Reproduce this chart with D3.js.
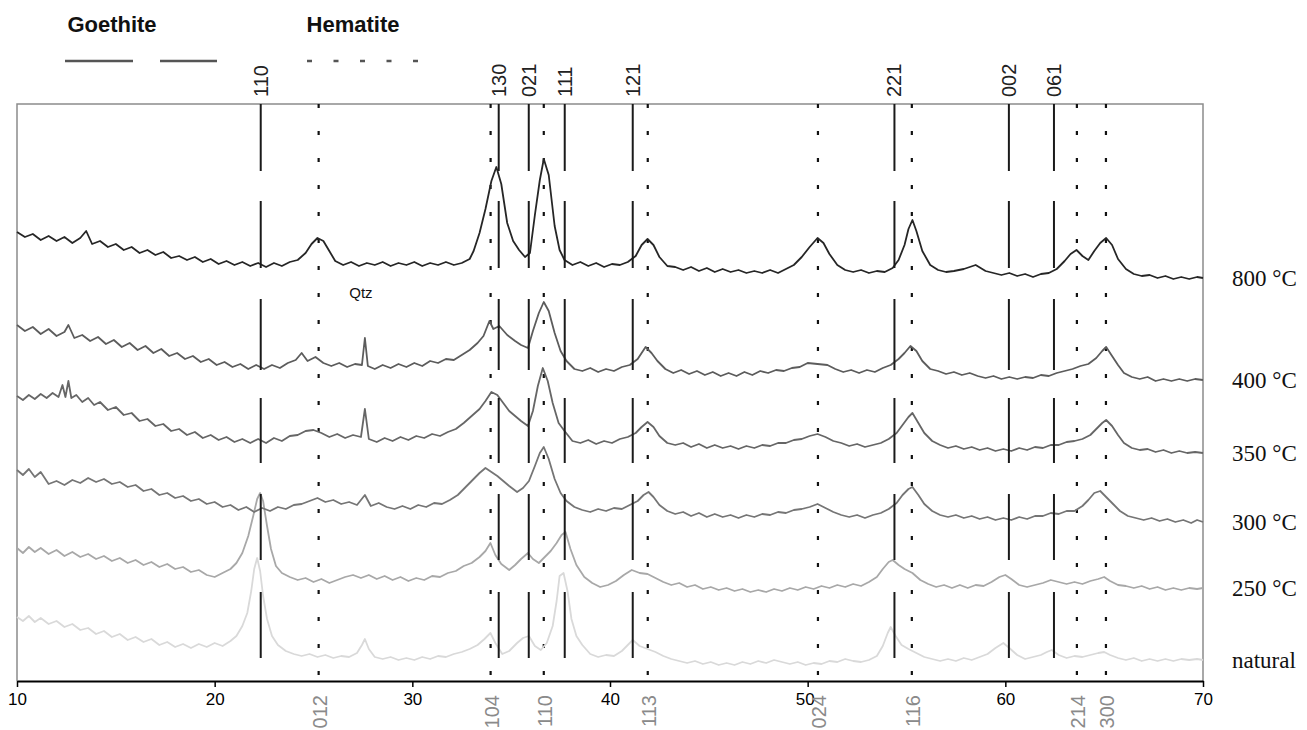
<!DOCTYPE html>
<html>
<head>
<meta charset="utf-8">
<script src="https://cdn.jsdelivr.net/npm/d3@7"></script>
<style>
  body { margin: 0; background: #fff; }
  svg { display: block; }
</style>
</head>
<body>
<div id="xrd"></div>
<script>
// 2-theta axis ticks
var xTicks = [10, 20, 30, 40, 50, 60, 70];

// reference lines (2-theta)
var goethiteHkl = ['110', '130', '021', '111', '121', '221', '002', '061'];
var goethitePos = [22.33, 34.37, 35.89, 37.71, 41.15, 54.39, 60.18, 62.46];
var hematiteHkl = ['012', '104', '110', '113', '024', '116', '214', '300'];
var hematitePos = [25.26, 33.96, 36.65, 41.91, 50.52, 55.27, 63.62, 65.09];

// goethite marker segments (intensity, a.u.)
var goethiteBands = [[510, 577], [413, 480], [311, 382], [218, 283], [121, 187], [23, 89]];

var traceNames = ['800 °C', '400 °C', '350 °C', '300 °C', '250 °C', 'natural'];
var traceColors = ['#262626', '#5c5c5c', '#666666', '#757575', '#a8a8a8', '#d9d9d9'];

var t800 = [[10.0,449],[10.4,444],[10.8,447],[11.2,441],[11.6,445],[12.0,440],[12.4,444],[12.8,438],[13.2,443],[13.5,450],[13.8,437],[14.2,440],[14.6,434],[15.0,437],[15.4,431],[15.8,434],[16.2,428],[16.6,431],[17.0,426],[17.4,429],[17.8,423],[18.2,425],[18.6,421],[19.0,424],[19.4,419],[19.8,422],[20.2,417],[20.6,420],[21.0,416],[21.4,419],[21.8,415],[22.2,418],[22.6,414],[23.0,418],[23.4,415],[23.8,419],[24.2,421],[24.6,428],[24.9,437],[25.2,443],[25.5,440],[25.8,430],[26.1,420],[26.5,416],[26.9,419],[27.3,415],[27.7,418],[28.1,416],[28.5,419],[28.9,415],[29.3,418],[29.7,416],[30.1,419],[30.5,415],[30.9,418],[31.3,416],[31.7,419],[32.1,416],[32.5,418],[32.9,422],[33.1,430],[33.4,448],[33.7,472],[34.0,500],[34.25,514],[34.5,497],[34.8,458],[35.1,440],[35.4,431],[35.7,424],[35.95,428],[36.2,466],[36.45,501],[36.65,522],[36.9,506],[37.2,455],[37.45,431],[37.7,421],[38.1,416],[38.5,419],[38.9,415],[39.3,418],[39.7,414],[40.1,417],[40.5,416],[40.9,419],[41.3,425],[41.6,436],[41.9,442],[42.2,436],[42.5,424],[42.9,415],[43.3,414],[43.7,411],[44.1,414],[44.5,410],[44.9,413],[45.3,409],[45.7,412],[46.1,409],[46.5,411],[46.9,408],[47.3,410],[47.7,408],[48.1,411],[48.5,408],[48.9,412],[49.3,416],[49.7,424],[50.1,434],[50.5,443],[50.8,438],[51.1,427],[51.5,416],[51.9,411],[52.3,409],[52.7,411],[53.1,408],[53.5,410],[53.9,409],[54.3,413],[54.6,421],[54.9,436],[55.1,452],[55.3,461],[55.5,450],[55.8,430],[56.2,416],[56.6,411],[57.0,409],[57.4,410],[57.9,412],[58.5,416],[59.0,410],[59.4,408],[59.8,406],[60.2,408],[60.6,405],[61.0,407],[61.4,404],[61.8,407],[62.2,408],[62.6,412],[63.0,420],[63.3,427],[63.6,431],[63.9,425],[64.2,421],[64.5,430],[64.8,438],[65.1,443],[65.4,436],[65.7,422],[66.1,412],[66.5,407],[66.9,405],[67.3,406],[67.7,403],[68.1,405],[68.5,402],[68.9,404],[69.3,402],[69.7,404],[70.0,403]];

var t400 = [[10.0,356],[10.4,350],[10.8,354],[11.2,347],[11.6,352],[12.0,345],[12.4,349],[12.6,356],[12.9,343],[13.3,346],[13.7,340],[14.1,344],[14.5,337],[14.9,341],[15.3,334],[15.7,338],[16.1,331],[16.5,335],[16.9,328],[17.3,332],[17.7,325],[18.1,328],[18.5,322],[18.9,325],[19.3,319],[19.7,322],[20.1,316],[20.5,319],[20.9,314],[21.3,317],[21.7,312],[22.1,316],[22.5,312],[22.9,316],[23.3,313],[23.7,318],[24.1,321],[24.4,328],[24.7,320],[25.1,324],[25.5,318],[25.9,315],[26.3,318],[26.7,314],[27.1,317],[27.45,316],[27.6,343],[27.75,315],[28.1,312],[28.5,316],[28.9,313],[29.3,317],[29.7,314],[30.1,318],[30.5,315],[30.9,320],[31.3,318],[31.7,322],[32.1,321],[32.5,326],[32.9,331],[33.3,338],[33.6,345],[33.9,360],[34.1,352],[34.4,355],[34.8,346],[35.2,340],[35.5,336],[35.85,333],[36.1,350],[36.4,368],[36.65,379],[36.9,370],[37.2,348],[37.5,330],[37.8,320],[38.2,312],[38.6,310],[39.0,313],[39.4,309],[39.8,312],[40.2,310],[40.6,314],[41.0,316],[41.4,322],[41.8,334],[42.1,328],[42.4,320],[42.8,312],[43.2,308],[43.6,311],[44.0,307],[44.4,310],[44.8,306],[45.2,309],[45.6,305],[46.0,308],[46.4,305],[46.8,309],[47.2,306],[47.6,310],[48.0,308],[48.4,311],[48.8,310],[49.2,313],[49.6,314],[50.0,318],[50.5,317],[51.0,316],[51.4,312],[51.8,309],[52.2,311],[52.6,308],[53.0,311],[53.4,309],[53.8,313],[54.2,316],[54.6,322],[54.9,328],[55.2,335],[55.5,330],[55.8,320],[56.2,312],[56.6,310],[57.0,307],[57.4,309],[57.8,306],[58.2,308],[58.6,305],[59.0,303],[59.4,305],[59.8,302],[60.2,304],[60.6,302],[61.0,304],[61.4,303],[61.8,306],[62.2,305],[62.6,308],[63.0,310],[63.4,312],[63.8,315],[64.2,317],[64.6,323],[64.9,330],[65.1,334],[65.4,325],[65.7,316],[66.0,308],[66.4,304],[66.8,302],[67.2,304],[67.6,300],[68.0,302],[68.4,300],[68.8,302],[69.2,300],[69.6,302],[70.0,301]];

var t350 = [[10.0,285],[10.3,281],[10.6,286],[10.9,282],[11.2,287],[11.5,283],[11.8,288],[12.1,284],[12.3,296],[12.45,284],[12.6,300],[12.75,283],[13.0,286],[13.3,279],[13.6,283],[13.9,276],[14.2,279],[14.6,271],[15.0,274],[15.4,266],[15.8,268],[16.2,260],[16.6,262],[17.0,255],[17.4,257],[17.8,250],[18.2,252],[18.6,246],[19.0,249],[19.4,243],[19.8,246],[20.2,241],[20.6,244],[21.0,239],[21.4,242],[21.8,238],[22.2,242],[22.6,238],[23.0,243],[23.4,240],[23.8,245],[24.2,246],[24.6,250],[25.0,251],[25.4,248],[25.8,244],[26.2,247],[26.6,243],[27.0,246],[27.4,244],[27.6,272],[27.8,242],[28.2,239],[28.6,243],[29.0,240],[29.4,244],[29.8,241],[30.2,245],[30.6,243],[31.0,247],[31.4,245],[31.8,249],[32.2,252],[32.6,258],[33.0,265],[33.4,272],[33.7,280],[34.0,289],[34.3,286],[34.6,278],[34.9,270],[35.2,265],[35.5,260],[35.85,255],[36.1,270],[36.35,295],[36.6,313],[36.85,300],[37.1,278],[37.4,258],[37.7,250],[38.1,240],[38.5,238],[38.9,241],[39.3,237],[39.7,240],[40.1,238],[40.5,242],[40.9,244],[41.3,248],[41.6,254],[41.9,259],[42.2,254],[42.5,245],[42.9,238],[43.3,236],[43.7,238],[44.1,234],[44.5,237],[44.9,233],[45.3,236],[45.7,233],[46.1,235],[46.5,232],[46.9,235],[47.3,233],[47.7,236],[48.1,235],[48.5,238],[48.9,238],[49.3,241],[49.7,242],[50.1,245],[50.5,247],[50.9,244],[51.3,240],[51.7,238],[52.1,235],[52.5,237],[52.9,234],[53.3,236],[53.7,238],[54.1,242],[54.5,248],[54.8,256],[55.1,264],[55.3,268],[55.6,258],[55.9,248],[56.3,240],[56.7,236],[57.1,233],[57.5,235],[57.9,232],[58.3,234],[58.7,231],[59.1,233],[59.5,230],[59.9,232],[60.3,230],[60.7,233],[61.1,231],[61.5,234],[61.9,233],[62.3,236],[62.7,236],[63.1,239],[63.5,240],[63.9,242],[64.3,246],[64.6,252],[64.9,258],[65.1,261],[65.4,255],[65.7,246],[66.0,238],[66.4,233],[66.8,231],[67.2,232],[67.6,229],[68.0,231],[68.4,228],[68.8,230],[69.2,228],[69.6,229],[70.0,228]];

var t300 = [[10.0,211],[10.3,206],[10.6,212],[10.9,204],[11.2,209],[11.6,197],[12.0,200],[12.4,196],[12.8,201],[13.2,198],[13.6,203],[14.0,199],[14.4,202],[14.8,197],[15.2,199],[15.6,194],[16.0,196],[16.4,190],[16.8,192],[17.2,186],[17.6,188],[18.0,183],[18.4,185],[18.8,180],[19.2,182],[19.6,177],[20.0,179],[20.4,174],[20.8,176],[21.2,171],[21.6,174],[22.0,169],[22.4,173],[22.8,170],[23.2,174],[23.6,172],[24.0,176],[24.4,177],[24.8,180],[25.2,183],[25.6,179],[26.0,181],[26.4,177],[26.8,179],[27.2,176],[27.6,186],[27.9,175],[28.3,178],[28.7,174],[29.1,172],[29.5,175],[29.9,172],[30.3,176],[30.7,174],[31.1,178],[31.5,177],[31.9,181],[32.3,186],[32.7,194],[33.1,202],[33.4,208],[33.7,213],[34.0,209],[34.3,205],[34.6,200],[34.9,195],[35.3,189],[35.6,193],[35.9,200],[36.2,215],[36.45,228],[36.65,234],[36.9,222],[37.2,202],[37.5,188],[37.8,180],[38.2,174],[38.6,171],[39.0,169],[39.4,172],[39.8,170],[40.2,173],[40.6,172],[41.0,176],[41.4,180],[41.7,186],[41.95,189],[42.2,184],[42.5,176],[42.9,170],[43.3,167],[43.7,169],[44.1,165],[44.5,168],[44.9,164],[45.3,167],[45.7,164],[46.1,166],[46.5,163],[46.9,166],[47.3,164],[47.7,167],[48.1,166],[48.5,169],[48.9,168],[49.3,171],[49.7,172],[50.1,174],[50.5,177],[50.9,173],[51.3,169],[51.7,166],[52.1,164],[52.5,166],[52.9,163],[53.3,166],[53.7,168],[54.1,172],[54.5,178],[54.8,186],[55.1,192],[55.3,194],[55.6,186],[55.9,177],[56.3,170],[56.7,166],[57.1,164],[57.5,166],[57.9,163],[58.3,165],[58.7,162],[59.1,164],[59.5,161],[59.9,163],[60.3,161],[60.7,164],[61.1,162],[61.5,165],[61.9,165],[62.3,168],[62.7,167],[63.1,170],[63.5,170],[63.9,175],[64.2,181],[64.5,188],[64.8,190],[65.1,184],[65.4,178],[65.8,170],[66.2,165],[66.6,163],[67.0,161],[67.4,163],[67.8,160],[68.2,162],[68.6,159],[69.0,161],[69.4,158],[69.7,161],[70.0,159]];

var t250 = [[10.0,133],[10.3,128],[10.6,134],[10.9,129],[11.2,133],[11.6,127],[12.0,131],[12.4,125],[12.8,129],[13.2,124],[13.6,127],[14.0,122],[14.4,125],[14.8,120],[15.2,123],[15.6,118],[16.0,121],[16.4,116],[16.8,119],[17.2,114],[17.6,117],[18.0,112],[18.4,114],[18.8,109],[19.2,111],[19.6,106],[20.0,104],[20.4,108],[20.8,112],[21.1,118],[21.4,128],[21.7,145],[21.95,165],[22.15,182],[22.3,188],[22.45,180],[22.65,155],[22.85,132],[23.1,115],[23.4,108],[23.8,104],[24.2,101],[24.6,103],[25.0,99],[25.4,102],[25.8,98],[26.2,101],[26.6,104],[27.0,106],[27.4,103],[27.8,106],[28.2,102],[28.6,105],[29.0,101],[29.4,104],[29.8,100],[30.2,103],[30.6,101],[31.0,105],[31.4,104],[31.8,108],[32.2,110],[32.6,115],[33.0,118],[33.4,124],[33.7,130],[33.95,138],[34.2,126],[34.5,117],[34.9,111],[35.2,116],[35.5,122],[35.85,128],[36.1,122],[36.4,118],[36.7,124],[37.0,130],[37.3,138],[37.55,146],[37.75,149],[38.0,132],[38.3,116],[38.7,104],[39.1,98],[39.5,94],[39.9,96],[40.3,100],[40.7,106],[41.1,111],[41.5,108],[41.9,107],[42.3,103],[42.7,99],[43.1,96],[43.5,98],[43.9,94],[44.3,96],[44.7,92],[45.1,94],[45.5,91],[45.9,93],[46.3,90],[46.7,92],[47.1,89],[47.5,91],[47.9,89],[48.3,92],[48.7,90],[49.1,93],[49.5,91],[49.9,94],[50.3,92],[50.7,95],[51.1,93],[51.5,96],[51.9,94],[52.3,97],[52.7,95],[53.1,99],[53.5,104],[53.8,112],[54.1,119],[54.3,121],[54.6,116],[54.9,112],[55.3,108],[55.7,101],[56.1,97],[56.5,94],[56.9,96],[57.3,93],[57.7,96],[58.1,93],[58.5,96],[58.9,95],[59.3,99],[59.7,104],[60.0,106],[60.3,102],[60.7,96],[61.1,94],[61.5,96],[61.9,98],[62.3,101],[62.7,99],[63.1,97],[63.5,99],[63.9,97],[64.3,100],[64.7,102],[65.0,104],[65.3,100],[65.7,96],[66.1,95],[66.5,93],[66.9,95],[67.3,92],[67.7,94],[68.1,91],[68.5,93],[68.9,91],[69.3,93],[69.7,92],[70.0,93]];

var tNatural = [[10.0,64],[10.3,60],[10.6,65],[10.9,59],[11.2,63],[11.6,57],[12.0,60],[12.4,54],[12.8,57],[13.2,51],[13.6,53],[14.0,47],[14.4,50],[14.8,44],[15.2,47],[15.6,41],[16.0,44],[16.4,39],[16.8,42],[17.2,36],[17.6,39],[18.0,34],[18.4,37],[18.8,33],[19.2,37],[19.6,34],[20.0,38],[20.4,35],[20.8,40],[21.1,45],[21.4,55],[21.65,68],[21.85,90],[22.0,112],[22.15,123],[22.3,110],[22.45,85],[22.65,62],[22.9,45],[23.2,36],[23.6,30],[24.0,27],[24.4,25],[24.8,27],[25.2,24],[25.6,26],[26.0,23],[26.4,25],[26.8,24],[27.2,28],[27.45,36],[27.6,42],[27.8,32],[28.1,24],[28.5,22],[28.9,24],[29.3,21],[29.7,23],[30.1,21],[30.5,24],[30.9,22],[31.3,25],[31.7,24],[32.1,27],[32.5,29],[32.9,32],[33.3,36],[33.65,42],[33.95,48],[34.2,38],[34.55,27],[34.9,30],[35.3,38],[35.6,43],[35.9,45],[36.2,35],[36.5,31],[36.8,38],[37.1,55],[37.3,80],[37.45,105],[37.65,108],[37.85,90],[38.05,62],[38.3,45],[38.6,36],[39.0,27],[39.4,24],[39.8,26],[40.2,25],[40.6,30],[40.9,36],[41.15,41],[41.5,35],[41.9,32],[42.3,29],[42.7,25],[43.1,22],[43.5,20],[43.9,18],[44.3,20],[44.7,17],[45.1,19],[45.5,16],[45.9,18],[46.3,16],[46.7,19],[47.1,17],[47.5,20],[47.9,18],[48.3,21],[48.7,19],[49.1,17],[49.5,19],[49.9,16],[50.3,18],[50.7,17],[51.1,20],[51.5,19],[51.9,22],[52.3,20],[52.7,19],[53.1,21],[53.5,25],[53.8,35],[54.05,48],[54.2,54],[54.45,45],[54.75,36],[55.1,32],[55.5,28],[55.9,24],[56.3,22],[56.7,20],[57.1,22],[57.5,20],[57.9,23],[58.3,21],[58.7,24],[59.1,27],[59.5,33],[59.9,38],[60.2,33],[60.6,26],[61.0,22],[61.4,24],[61.8,26],[62.1,29],[62.35,31],[62.7,26],[63.1,23],[63.5,25],[63.9,24],[64.3,26],[64.7,28],[65.0,29],[65.3,26],[65.7,23],[66.1,21],[66.5,23],[66.9,20],[67.3,22],[67.7,20],[68.1,22],[68.5,20],[68.9,22],[69.3,21],[69.7,22],[70.0,21]];

var traces = [t800, t400, t350, t300, t250, tNatural];

// quartz reflection marked above the 400 °C pattern
var qtzPos = 27.6;
var qtzLevel = 383;

// ---------------------------------------------------------------
var margin = { top: 104, right: 104, bottom: 49, left: 17 };
var totalWidth = 1307, totalHeight = 730;
var width = totalWidth - margin.left - margin.right;
var height = totalHeight - margin.top - margin.bottom;

var x = d3.scaleLinear().domain([10, 70]).range([0, width]);
var y = d3.scaleLinear().domain([0, height]).range([height, 0]);

var svg = d3.select('#xrd')
  .append('svg')
  .attr('width', totalWidth)
  .attr('height', totalHeight);

var main = svg.append('g')
  .attr('transform', 'translate(' + margin.left + ',' + margin.top + ')');

// frame (top / left / right)
main.append('path')
  .attr('d', 'M0,' + height + 'V0H' + width + 'V' + height)
  .attr('fill', 'none')
  .attr('stroke', '#8c8c8c')
  .attr('stroke-width', 1.5);

// hematite reference lines (dotted, full height)
main.selectAll('.hem')
  .data(hematitePos)
  .enter().append('line')
  .attr('class', 'hem')
  .attr('x1', function(d) { return x(d); })
  .attr('x2', function(d) { return x(d); })
  .attr('y1', 0)
  .attr('y2', height)
  .attr('stroke', '#111')
  .attr('stroke-width', 2.2)
  .attr('stroke-dasharray', '4,23');

// patterns
var line = d3.line()
  .x(function(d) { return x(d[0]); })
  .y(function(d) { return y(d[1]); });

main.selectAll('.trace')
  .data(traces.slice().reverse())
  .enter().append('path')
  .attr('class', 'trace')
  .attr('d', line)
  .attr('fill', 'none')
  .attr('stroke', function(d, i) { return traceColors[traces.length - 1 - i]; })
  .attr('stroke-width', 1.8)
  .attr('stroke-linejoin', 'round');

// goethite reference lines (solid segments)
goethitePos.forEach(function(p) {
  main.selectAll(null)
    .data(goethiteBands)
    .enter().append('line')
    .attr('x1', x(p))
    .attr('x2', x(p))
    .attr('y1', function(d) { return y(d[1]); })
    .attr('y2', function(d) { return y(d[0]); })
    .attr('stroke', '#1a1a1a')
    .attr('stroke-width', 2);
});

// x axis
var xAxis = main.append('g')
  .attr('transform', 'translate(0,' + height + ')')
  .call(d3.axisBottom(x).tickValues(xTicks).tickSize(6).tickSizeOuter(0).tickPadding(6));
xAxis.select('.domain').attr('stroke', '#000').attr('stroke-width', 2);
xAxis.selectAll('.tick line').attr('stroke', '#000').attr('stroke-width', 1.5);
xAxis.selectAll('.tick text')
  .attr('fill', '#000')
  .attr('dx', function(d) { return d === 50 ? -3 : 0; })
  .style('font-family', '"Liberation Sans", Arial, sans-serif')
  .style('font-size', '17px');

// hkl labels - goethite on top
main.selectAll('.ghkl')
  .data(goethiteHkl)
  .enter().append('text')
  .attr('class', 'ghkl')
  .attr('transform', function(d, i) { return 'translate(' + (x(goethitePos[i]) + 7) + ',-7) rotate(-90)'; })
  .attr('text-anchor', 'start')
  .attr('fill', '#222')
  .style('font-family', '"Liberation Sans", Arial, sans-serif')
  .style('font-size', '20px')
  .text(function(d) { return d; });

// hkl labels - hematite below axis
main.selectAll('.hhkl')
  .data(hematiteHkl)
  .enter().append('text')
  .attr('class', 'hhkl')
  .attr('transform', function(d, i) { return 'translate(' + (x(hematitePos[i]) + 8) + ',' + (height + 14) + ') rotate(-90)'; })
  .attr('text-anchor', 'end')
  .attr('fill', '#8a8a8a')
  .style('font-family', '"Liberation Sans", Arial, sans-serif')
  .style('font-size', '20px')
  .text(function(d) { return d; });

// temperature labels at the right end of each pattern
main.selectAll('.tlab')
  .data(traceNames)
  .enter().append('text')
  .attr('class', 'tlab')
  .attr('x', width + 29)
  .attr('y', function(d, i) { return y(traces[i][traces[i].length - 1][1]); })
  .attr('dy', '0.35em')
  .attr('fill', '#111')
  .style('font-family', '"Liberation Serif", "Times New Roman", serif')
  .style('font-size', '23px')
  .text(function(d) { return d; });

// Qtz note
main.append('text')
  .attr('x', x(qtzPos) - 4)
  .attr('y', y(qtzLevel))
  .attr('text-anchor', 'middle')
  .attr('fill', '#111')
  .style('font-family', '"Liberation Sans", Arial, sans-serif')
  .style('font-size', '15px')
  .text('Qtz');

// Legend
var legend = svg.append('g');
legend.append('text')
  .attr('x', 112).attr('y', 32)
  .attr('text-anchor', 'middle')
  .style('font-family', '"Liberation Sans", Arial, sans-serif')
  .style('font-weight', 'bold')
  .style('font-size', '22px')
  .attr('fill', '#111')
  .text('Goethite');
legend.append('text')
  .attr('x', 353).attr('y', 32)
  .attr('text-anchor', 'middle')
  .style('font-family', '"Liberation Sans", Arial, sans-serif')
  .style('font-weight', 'bold')
  .style('font-size', '22px')
  .attr('fill', '#111')
  .text('Hematite');
legend.selectAll('.gl')
  .data([[65, 133], [160, 217]])
  .enter().append('line')
  .attr('x1', function(d) { return d[0]; })
  .attr('x2', function(d) { return d[1]; })
  .attr('y1', 61).attr('y2', 61)
  .attr('stroke', '#555')
  .attr('stroke-width', 2.5);
legend.append('line')
  .attr('x1', 307).attr('x2', 420)
  .attr('y1', 61).attr('y2', 61)
  .attr('stroke', '#555')
  .attr('stroke-width', 2.5)
  .attr('stroke-dasharray', '5,21.5');
</script>
</body>
</html>
